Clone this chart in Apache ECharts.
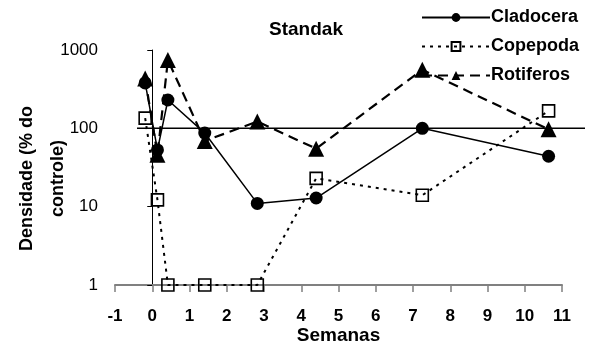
<!DOCTYPE html>
<html><head><meta charset="utf-8">
<script src="https://cdn.jsdelivr.net/npm/echarts@6/dist/echarts.min.js"></script>
<style>html,body{margin:0;padding:0;background:#fff}#c{width:598px;height:352px}</style>
</head><body><div id="c"></div>
<script>
const weeks = [-0.19, 0.14, 0.42, 1.41, 2.82, 4.4, 7.25, 10.64];
const cladocera = [380, 53, 230, 87, 11, 12.9, 100, 44];
const copepoda = [135, 12.2, 1, 1, 1, 23, 14, 167];
const rotiferos = [433, 46, 745, 69, 122, 55, 560, 97];
const refLineX = [0, 1];
const refLineY = [100, 100];
const seriesNames = ['Cladocera', 'Copepoda', 'Rotiferos'];
const xTicks = [-1, 11, 1];

const pairs = (xs, ys) => xs.map((x, i) => [x, ys[i]]);
const FONT = '"Liberation Sans", Arial, sans-serif';

const chart = echarts.init(document.getElementById('c'), null, {renderer: 'canvas'});
chart.setOption({
  animation: false,
  backgroundColor: '#fff',
  title: {
    text: 'Standak', left: 301, top: 15, textAlign: 'center',
    textStyle: {fontFamily: FONT, fontWeight: 'bold', fontSize: 19, color: '#000'}
  },
  legend: {
    data: seriesNames, orient: 'vertical', right: 14, top: 3,
    itemWidth: 68, itemHeight: 11, itemGap: 10,
    textStyle: {fontFamily: FONT, fontWeight: 'bold', fontSize: 18, color: '#000', lineHeight: 19, padding: [0,0,0,-4]}
  },
  grid: [
    {left: 115, right: 36, top: 50, bottom: 67, containLabel: false, outerBoundsMode: 'none'},
    {left: 137, right: 13, top: 50, bottom: 67, containLabel: false, outerBoundsMode: 'none'}
  ],
  xAxis: [{
    type: 'value', gridIndex: 0, min: xTicks[0], max: xTicks[1], interval: xTicks[2],
    name: 'Semanas', nameLocation: 'middle', nameGap: 41, nameMoveOverlap: false,
    nameTextStyle: {fontFamily: FONT, fontWeight: 'bold', fontSize: 19, color: '#000'},
    axisLine: {show: true, lineStyle: {color: '#808080', width: 2}},
    axisTick: {show: true, length: 7, lineStyle: {color: '#808080', width: 1.5}},
    axisLabel: {fontFamily: FONT, fontWeight: 'bold', fontSize: 17, color: '#000', margin: 23},
    splitLine: {show: false}
  }, {
    type: 'value', gridIndex: 1, min: 0, max: 1, show: false
  }],
  yAxis: [{
    type: 'log', gridIndex: 0, logBase: 10, min: 1, max: 1000,
    name: 'Densidade (% do\ncontrole)', nameLocation: 'middle', nameGap: 41, nameRotate: 90,
    nameMoveOverlap: false,
    nameTextStyle: {fontFamily: FONT, fontWeight: 'bold', fontSize: 18, color: '#000', lineHeight: 31, padding: [0, 22, 0, 0]},
    axisLine: {show: true, onZero: true, lineStyle: {color: '#000', width: 1}},
    axisTick: {show: true, length: 5, lineStyle: {color: '#000', width: 1}},
    axisLabel: {fontFamily: FONT, fontSize: 17, color: '#000', margin: 17, formatter: v => String(Math.round(v))},
    splitLine: {show: false}
  }, {
    type: 'log', gridIndex: 1, logBase: 10, min: 1, max: 1000, show: false
  }],
  series: [
    {
      type: 'line', xAxisIndex: 1, yAxisIndex: 1, data: pairs(refLineX, refLineY),
      symbol: 'none', silent: true, z: 1,
      lineStyle: {color: '#000', width: 1.5}
    },
    {
      name: 'Copepoda', type: 'line', data: pairs(weeks, copepoda), z: 3,
      symbol: 'rect', symbolSize: 12,
      itemStyle: {color: 'rgba(0,0,0,0)', borderColor: '#000', borderWidth: 1.6},
      lineStyle: {color: '#000', width: 2, type: [3, 5]}
    },
    {
      name: 'Rotiferos', type: 'line', data: pairs(weeks, rotiferos), z: 4,
      symbol: 'triangle', symbolSize: 16,
      itemStyle: {color: '#000'},
      lineStyle: {color: '#000', width: 2.2, type: [10, 6]}
    },
    {
      name: 'Cladocera', type: 'line', data: pairs(weeks, cladocera), z: 5,
      symbol: 'circle', symbolSize: 13,
      itemStyle: {color: '#000'},
      lineStyle: {color: '#000', width: 1.5}
    }
  ]
});
</script>
</body></html>
